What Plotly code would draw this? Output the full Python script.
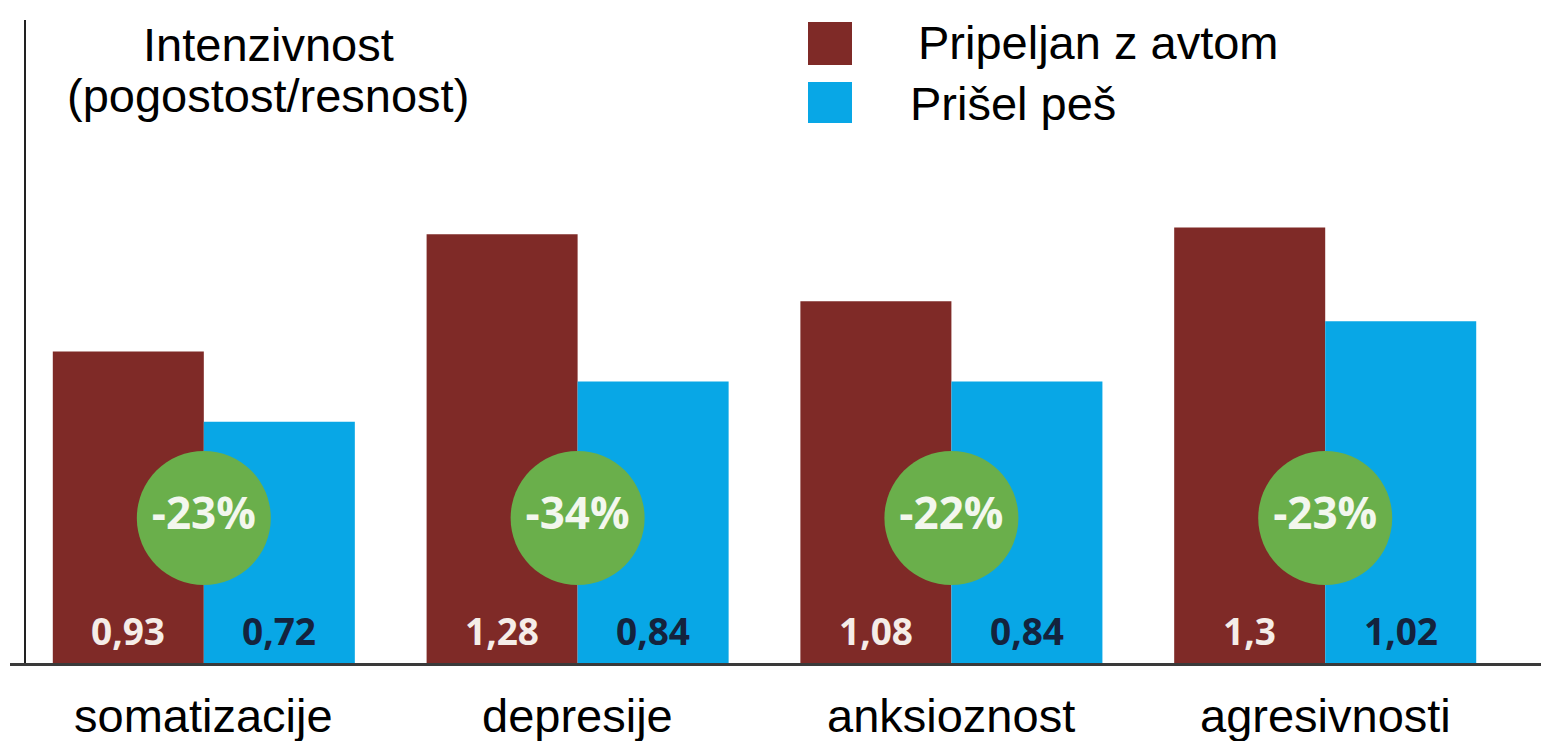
import plotly.graph_objects as go

# ---- data ----
categories = ["somatizacije", "depresije", "anksioznost", "agresivnosti"]
series_names = ["Pripeljan z avtom", "Prišel peš"]
car_values = [0.93, 1.28, 1.08, 1.30]
walk_values = [0.72, 0.84, 0.84, 1.02]
car_labels = ["0,93", "1,28", "1,08", "1,3"]
walk_labels = ["0,72", "0,84", "0,84", "1,02"]
change_labels = ["-23%", "-34%", "-22%", "-23%"]
axis_title_lines = ["Intenzivnost", "(pogostost/resnost)"]

# ---- style ----
RED = "#7f2a27"
BLUE = "#08a7e6"
GREEN = "#6aaf4b"
W, H = 1541, 741
ML, MR, MT, MB = 10, 0, 20, 78
PW, PH = W - ML - MR, H - MT - MB
PX_PER_UNIT = 335.0
TEXT_FONT = "Liberation Sans, Arial, sans-serif"
NUM_FONT = "Open Sans, sans-serif"


def px(xpix):
    return (xpix - ML) / PW


def py(ypix):
    return (H - MB - ypix) / PH


fig = go.Figure()
fig.add_trace(go.Bar(x=categories, y=car_values, name=series_names[0],
                     marker=dict(color=RED, line=dict(width=0)), hoverinfo="skip"))
fig.add_trace(go.Bar(x=categories, y=walk_values, name=series_names[1],
                     marker=dict(color=BLUE, line=dict(width=0)), hoverinfo="skip"))

# green circles with change labels
circle_y = [145 / PX_PER_UNIT] * len(categories)
fig.add_trace(go.Scatter(
    x=categories, y=circle_y, mode="markers+text", text=change_labels,
    textposition="middle center",
    marker=dict(size=134, color=GREEN, line=dict(width=0)),
    textfont=dict(family=NUM_FONT, size=44, color="#f3f7ee", weight="bold"),
    hoverinfo="skip", showlegend=False, cliponaxis=False))

annotations = []
half = 373.8 * 0.404 / 2
for cat, cl, wl in zip(categories, car_labels, walk_labels):
    annotations.append(dict(x=cat, y=0, xref="x", yref="y", text=cl, showarrow=False,
                            xanchor="center", yanchor="middle", xshift=-half, yshift=33,
                            font=dict(family=NUM_FONT, size=37, color="#f5ede8", weight="bold")))
    annotations.append(dict(x=cat, y=0, xref="x", yref="y", text=wl, showarrow=False,
                            xanchor="center", yanchor="middle", xshift=half, yshift=33,
                            font=dict(family=NUM_FONT, size=37, color="#14233d", weight="bold")))
    annotations.append(dict(x=cat, y=0, xref="x", yref="y", text=cat, showarrow=False,
                            xanchor="center", yanchor="middle", yshift=-52,
                            font=dict(family=TEXT_FONT, size=47, color="#000000")))

# axis title (two lines)
for line, ycen in zip(axis_title_lines, [44, 95]):
    annotations.append(dict(x=px(268), y=py(ycen), xref="paper", yref="paper", text=line,
                            showarrow=False, xanchor="center", yanchor="middle",
                            font=dict(family=TEXT_FONT, size=47, color="#000000")))

# legend (custom big squares)
shapes = []
legend_items = [
    (series_names[0], RED, (22, 65), 916, 42),
    (series_names[1], BLUE, (82, 123), 908, 104),
]
for name, col, (yt, yb), xtext, ytext in legend_items:
    shapes.append(dict(type="rect", xref="paper", yref="paper",
                       x0=px(808), x1=px(852), y0=py(yb), y1=py(yt),
                       fillcolor=col, line=dict(width=0)))
    annotations.append(dict(x=px(xtext), y=py(ytext), xref="paper", yref="paper", text=name,
                            showarrow=False, xanchor="left", yanchor="middle",
                            font=dict(family=TEXT_FONT, size=47, color="#000000")))

fig.update_layout(
    width=W, height=H,
    margin=dict(l=ML, r=MR, t=MT, b=MB, pad=0),
    paper_bgcolor="white", plot_bgcolor="white",
    barmode="group", bargap=0.192, bargroupgap=0,
    showlegend=False,
    annotations=annotations, shapes=shapes,
    xaxis=dict(type="category", range=[-0.5185, 3.5773], showline=True,
               linecolor="#3a3a3a", linewidth=3, showticklabels=False, ticks="",
               showgrid=False, zeroline=False, fixedrange=True),
    yaxis=dict(range=[0, PH / PX_PER_UNIT], showline=True, linecolor="#222222", linewidth=2,
               anchor="free", position=px(25), showticklabels=False, ticks="",
               showgrid=False, zeroline=False, fixedrange=True),
)

fig.write_html("out.html", config={"displayModeBar": False},
               post_script="document.body.style.margin='0';document.body.style.padding='0';"
                           "document.body.style.overflow='hidden';")
